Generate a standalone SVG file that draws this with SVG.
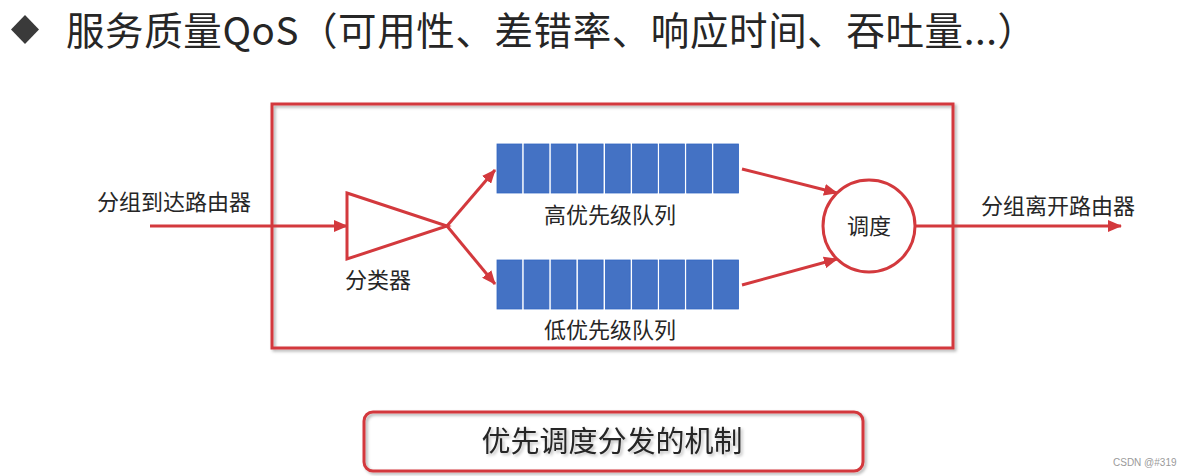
<svg xmlns="http://www.w3.org/2000/svg" width="1188" height="476" viewBox="0 0 1188 476">
<defs>
<style>
.t{font-family:"Noto Sans CJK SC","Noto Sans",sans-serif;fill:#262626}
.red{fill:none;stroke:#d3393d;stroke-width:3}
.conn{fill:none;stroke:#d3393d;stroke-width:3;marker-end:url(#ah)}
.cell{fill:#4472c4;stroke:#3366c2;stroke-width:0.8}
</style>
<marker id="ah" markerUnits="userSpaceOnUse" markerWidth="14" markerHeight="12" refX="13" refY="6" orient="auto">
<path d="M0,0 L14,6 L0,12 Z" fill="#d3393d"/>
</marker>
<filter id="sh" x="-5%" y="-5%" width="110%" height="115%">
<feDropShadow dx="2" dy="2" stdDeviation="1.5" flood-color="#000" flood-opacity="0.3"/>
</filter>
<filter id="tsh" x="-5%" y="-20%" width="110%" height="150%">
<feDropShadow dx="2" dy="2" stdDeviation="1.5" flood-color="#000" flood-opacity="0.25"/>
</filter>
</defs>
<rect width="1188" height="476" fill="#ffffff"/>

<g id="title">
<path d="M25,15 L39,29.5 L25,44 L11,29.5 Z" fill="#3a3a3a"/>
<text class="t" x="66" y="45" font-size="38.5" textLength="970" lengthAdjust="spacing">服务质量QoS（可用性、差错率、响应时间、吞吐量...）</text>
</g>

<g id="router">
<rect x="272" y="104" width="681" height="244" class="red" filter="url(#sh)"/>
</g>

<g id="connectors">
<line x1="150" y1="226" x2="347" y2="226" class="conn"/>
<line x1="447" y1="226" x2="495" y2="170" class="conn"/>
<line x1="447" y1="226" x2="495" y2="284" class="conn"/>
<line x1="742" y1="169" x2="837" y2="193" class="conn"/>
<line x1="742" y1="285" x2="837" y2="259" class="conn"/>
<line x1="915" y1="226" x2="1121" y2="226" class="conn"/>
</g>

<g id="label-in">
<text class="t" x="97" y="210" font-size="22">分组到达路由器</text>
</g>

<g id="classifier">
<path d="M347,193 L447,226 L347,259 Z" class="red" stroke-linejoin="miter"/>
<text class="t" x="345" y="288" font-size="22">分类器</text>
</g>

<g id="high-queue">
<rect class="cell" x="497" y="144" width="24.8" height="49"/>
<rect class="cell" x="524.1" y="144" width="24.8" height="49"/>
<rect class="cell" x="551.2" y="144" width="24.8" height="49"/>
<rect class="cell" x="578.3" y="144" width="24.8" height="49"/>
<rect class="cell" x="605.4" y="144" width="24.8" height="49"/>
<rect class="cell" x="632.5" y="144" width="24.8" height="49"/>
<rect class="cell" x="659.6" y="144" width="24.8" height="49"/>
<rect class="cell" x="686.7" y="144" width="24.8" height="49"/>
<rect class="cell" x="713.8" y="144" width="24.8" height="49"/>
<text class="t" x="610" y="223" font-size="22" text-anchor="middle">高优先级队列</text>
</g>

<g id="low-queue">
<rect class="cell" x="497" y="260" width="24.8" height="49"/>
<rect class="cell" x="524.1" y="260" width="24.8" height="49"/>
<rect class="cell" x="551.2" y="260" width="24.8" height="49"/>
<rect class="cell" x="578.3" y="260" width="24.8" height="49"/>
<rect class="cell" x="605.4" y="260" width="24.8" height="49"/>
<rect class="cell" x="632.5" y="260" width="24.8" height="49"/>
<rect class="cell" x="659.6" y="260" width="24.8" height="49"/>
<rect class="cell" x="686.7" y="260" width="24.8" height="49"/>
<rect class="cell" x="713.8" y="260" width="24.8" height="49"/>
<text class="t" x="610" y="338" font-size="22" text-anchor="middle">低优先级队列</text>
</g>

<g id="scheduler">
<circle cx="869" cy="226" r="46" fill="#ffffff" class="red"/>
<text class="t" x="869" y="234" font-size="22" text-anchor="middle">调度</text>
</g>

<g id="label-out">
<text class="t" x="981" y="214" font-size="22">分组离开路由器</text>
</g>

<g id="mechanism">
<rect x="364" y="412" width="499" height="59" rx="9" ry="9" fill="#ffffff" class="red" filter="url(#sh)"/>
<text class="t" x="612" y="452" font-size="29" text-anchor="middle" filter="url(#tsh)">优先调度分发的机制</text>
</g>

<text x="1113" y="466" font-family="Liberation Sans, sans-serif" font-size="10" fill="#9a9a9a">CSDN @#319</text>
</svg>
